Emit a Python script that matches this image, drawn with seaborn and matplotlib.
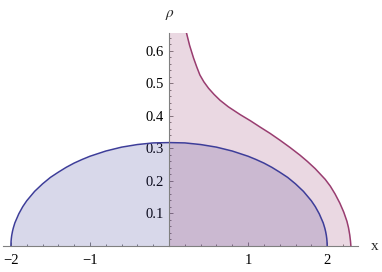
import numpy as np
import pandas as pd
import seaborn as sns
import matplotlib.pyplot as plt
from matplotlib.ticker import MultipleLocator, FixedLocator

# semicircle density, left half; the right half mirrors it
half_x = [-2.0, -1.998, -1.995, -1.99, -1.98, -1.97, -1.95, -1.9, -1.85, -1.8, -1.7, -1.6, -1.5, -1.4,
          -1.3, -1.2, -1.1, -1.0, -0.9, -0.8, -0.6, -0.4, -0.2]
half_rho = [0.0, 0.0142, 0.0225, 0.032, 0.045, 0.055, 0.071, 0.099, 0.121, 0.139, 0.168, 0.191, 0.211, 0.227,
            0.242, 0.255, 0.266, 0.276, 0.284, 0.292, 0.304, 0.312, 0.317]
semi_x = half_x + [0.0] + [-v for v in half_x[::-1]]
semi_rho = half_rho + [0.318] + half_rho[::-1]

# second density, positive side only
dens_x = [0.20, 0.224, 0.26, 0.31, 0.35, 0.39, 0.44, 0.50, 0.57, 0.646, 0.75, 0.90, 1.03, 1.15, 1.28, 1.405,
          1.53, 1.658, 1.75, 1.848, 1.975, 2.04, 2.10, 2.16, 2.21, 2.25, 2.27, 2.285, 2.295, 2.30]
dens_rho = [0.675, 0.652, 0.617, 0.578, 0.551, 0.526, 0.505, 0.485, 0.466, 0.448, 0.428, 0.404, 0.385, 0.366,
            0.346, 0.325, 0.303, 0.279, 0.260, 0.238, 0.205, 0.184, 0.160, 0.132, 0.104, 0.076, 0.056, 0.035,
            0.015, 0.0]

blue = (0.24, 0.24, 0.6)
red = (0.6, 0.24, 0.44)

sns.set_style("ticks")
plt.rcParams['font.family'] = ['Liberation Serif', 'DejaVu Serif']
plt.rcParams['mathtext.fontset'] = 'stix'

fig = plt.figure(figsize=(3.82, 2.72), dpi=100)
ax = fig.add_axes([3 / 382, 26 / 272, 355 / 382, 213 / 272])

semi = pd.DataFrame({'x': semi_x, 'rho': semi_rho})
dens = pd.DataFrame({'x': dens_x, 'rho': dens_rho})

# fills
ax.fill_between(semi.x, 0, semi.rho, color=blue, alpha=0.2, linewidth=0)
fill_x = [0.0] + dens_x
fill_y = [0.70] + dens_rho
ax.fill_between(fill_x, 0, fill_y, color=red, alpha=0.2, linewidth=0)

sns.lineplot(data=semi, x='x', y='rho', ax=ax, color=blue, linewidth=1.1, sort=False, estimator=None)
sns.lineplot(data=dens, x='x', y='rho', ax=ax, color=red, linewidth=1.1, sort=False, estimator=None)

ax.set_xlim(-2.1, 2.39)
ax.set_ylim(0, 0.655)

for s in ['top', 'right']:
    ax.spines[s].set_visible(False)
ax.spines['left'].set_position(('data', 0))
for s in ['left', 'bottom']:
    ax.spines[s].set_color('#808080')
    ax.spines[s].set_linewidth(0.8)

ax.xaxis.set_major_locator(FixedLocator([-2, -1, 1, 2]))
ax.xaxis.set_minor_locator(MultipleLocator(0.2))
ax.yaxis.set_major_locator(FixedLocator([0.1, 0.2, 0.3, 0.4, 0.5, 0.6]))
ax.yaxis.set_minor_locator(MultipleLocator(0.02))
ax.set_yticklabels(['0.1', '0.2', '0.3', '0.4', '0.5', '0.6'])
ax.set_xticklabels(['\u22122', '\u22121', '1', '2'])

ax.tick_params(which='both', direction='in', color='#808080', width=0.7, labelsize=10.5, labelcolor='black')
ax.tick_params(which='major', length=3.2)
ax.tick_params(which='minor', length=1.7)
ax.tick_params(axis='x', pad=6)
ax.tick_params(axis='y', pad=4)

ax.set_xlabel('')
ax.set_ylabel('')
fig.text(375 / 382, 1 - 247 / 272, 'x', fontsize=11, ha='center', va='center')
fig.text(170 / 382, 1 - 15 / 272, r'$\rho$', fontsize=11, ha='center', va='center')

fig.savefig('out.png', dpi=100)
